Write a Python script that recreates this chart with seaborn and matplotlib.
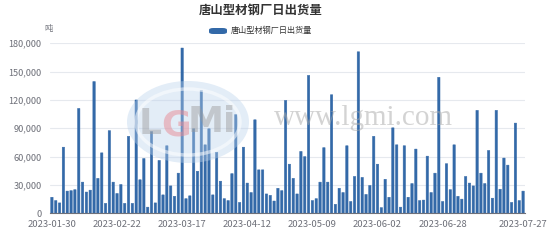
import numpy as np
import pandas as pd
import matplotlib
matplotlib.use("Agg")
import matplotlib.pyplot as plt
import seaborn as sns
from matplotlib.patches import FancyBboxPatch, Ellipse
from matplotlib.ticker import FuncFormatter

# ---------------- data ----------------
title = "唐山型材钢厂日出货量"
series_name = "唐山型材钢厂日出货量"
unit = "吨"
values = [17000, 13500, 11000, 70000, 23500, 24000, 25000, 111000, 33000, 22500,
          24500, 139500, 37000, 64000, 10500, 87500, 33000, 21000, 30500, 10500,
          81500, 10500, 120000, 35500, 58000,
          6500, 86500, 11000, 56000, 19500, 71500, 29000, 18000, 42500, 175000,
          15500, 18500, 89500, 44500, 130000, 72500, 89500, 19500, 64500, 34000,
          15500, 13500, 42000, 104500, 11500,
          70000, 32000, 22000, 99000, 46000, 46000, 20500, 19000, 13000, 26500,
          24000, 119500, 52000, 37000, 20500, 65500, 60000, 146000, 13500, 15500,
          33000, 69500, 33000, 125500, 9500,
          26500, 22000, 71500, 12500, 39000, 171000, 38000, 20000, 29500, 81500,
          52000, 6000, 36000, 17000, 90500, 72500, 6500, 71500, 17000, 31500,
          68000, 13500, 14000, 60500, 22000,
          42500, 144000, 12500, 52500, 25000, 72500, 18000, 15000, 39000, 32000,
          29000, 109000, 42500, 31500, 66500, 16000, 109000, 25500, 58500, 51000,
          11500, 95500, 13500, 23500]
tick_index = [0, 17, 34, 51, 68, 85, 102, 123]
tick_labels = ["2023-01-30", "2023-02-22", "2023-03-17", "2023-04-12",
               "2023-05-09", "2023-06-02", "2023-06-28", "2023-07-27"]
y_ticks = [0, 30000, 60000, 90000, 120000, 150000, 180000]

# ---------------- style ----------------
sns.set_style("white")
plt.rcParams["font.family"] = ["Noto Sans CJK SC", "DejaVu Sans"]

bar_color = "#3369a8"
grid_color = "#e6e9ee"
label_color = "#6e7079"

fig = plt.figure(figsize=(5.54, 2.40), dpi=100)
ax = fig.add_axes([50 / 554, 26.7 / 240, 475 / 554, 170 / 240])

df = pd.DataFrame({"idx": np.arange(len(values)), "value": values})
sns.barplot(data=df, x="idx", y="value", color=bar_color, saturation=1,
            width=0.62, ax=ax, zorder=2)
for p in ax.patches:
    p.set_snap(False)
    p.set_edgecolor(bar_color)
    p.set_linewidth(0.35)

n = len(values)
ax.set_xlim(-0.5, n - 0.5)
ax.set_ylim(0, 180000)
ax.set_yticks(y_ticks)
ax.yaxis.set_major_formatter(FuncFormatter(lambda v, p: f"{int(v):,}"))
ax.grid(axis="y", color=grid_color, linewidth=0.8, zorder=0)
ax.grid(axis="x", visible=False)
ax.set_axisbelow(True)

# x ticks: labels at category centres, tick marks at category boundaries
ax.set_xticks(tick_index)
ax.set_xticklabels(tick_labels)
ax.tick_params(axis="x", which="major", length=0, pad=5, labelsize=6.8,
               labelcolor=label_color)
minor_pos = [i - 0.5 for i in tick_index[:-1]] + [n - 0.5]
ax.set_xticks(minor_pos, minor=True)
ax.tick_params(axis="x", which="minor", length=4, width=0.8, color=label_color,
               direction="out")
ax.tick_params(axis="y", length=0, pad=6, labelsize=6.6, labelcolor=label_color)
ax.set_xlabel("")
ax.set_ylabel("")

for s in ["top", "right", "left"]:
    ax.spines[s].set_visible(False)
ax.spines["bottom"].set_color(label_color)
ax.spines["bottom"].set_linewidth(0.8)

# ---------------- watermark ----------------
ax_w = fig.add_axes([0, 0, 1, 1], zorder=3)
ax_w.set_xlim(0, 554)
ax_w.set_ylim(240, 0)
ax_w.axis("off")
ax_w.patch.set_alpha(0)
ax_w.add_patch(Ellipse((188, 122), 122, 82, facecolor="#b9d2ec", alpha=0.4,
                       edgecolor="none"))
ax_w.add_patch(Ellipse((188, 122), 104, 66, facecolor="none", edgecolor="#ffffff",
                       linewidth=2.5, alpha=0.5))
ax_w.text(150, 124, "L", fontsize=26, fontweight="bold", color="#9a9a9a",
          alpha=0.45, ha="center", va="center", family="DejaVu Sans")
ax_w.text(176, 126, "G", fontsize=26, fontweight="bold", color="#e88a94",
          alpha=0.5, ha="center", va="center", family="DejaVu Sans")
ax_w.text(212, 122, "Mi", fontsize=26, fontweight="bold", color="#9a9a9a",
          alpha=0.45, ha="center", va="center", family="DejaVu Sans")
ax_w.text(363, 118, "www.lgmi.com", fontsize=21, color="#a9a9a9", alpha=0.5,
          ha="center", va="center", family="Liberation Serif")

# ---------------- title / legend / unit ----------------
fig.text(261 / 554, 1 - 10 / 240, title, fontsize=8.9, fontweight="bold",
         color="#333333", ha="center", va="center")
leg = FancyBboxPatch((209 / 554, 1 - 34 / 240), 18 / 554, 6 / 240,
                     boxstyle="round,pad=0,rounding_size=0.008",
                     transform=fig.transFigure, facecolor=bar_color,
                     edgecolor="none")
fig.add_artist(leg)
fig.text(231 / 554, 1 - 30.5 / 240, series_name, fontsize=5.9, color="#333333",
         ha="left", va="center")
fig.text(49 / 554, 1 - 28.5 / 240, unit, fontsize=6, color=label_color,
         ha="center", va="center")

fig.savefig("out.png", dpi=100)
